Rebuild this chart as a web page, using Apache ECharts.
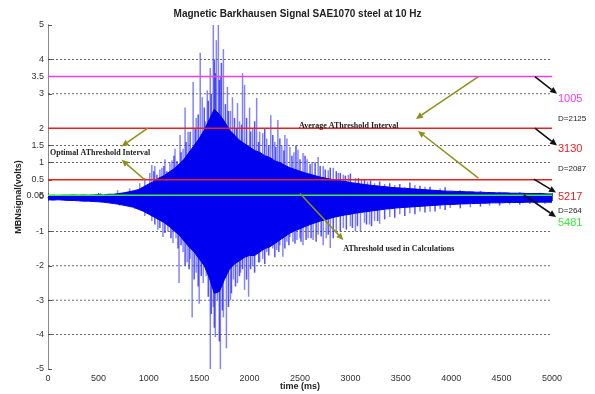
<!DOCTYPE html>
<html><head><meta charset="utf-8">
<script src="https://cdn.jsdelivr.net/npm/echarts@6/dist/echarts.min.js"></script>
<style>html,body{margin:0;padding:0;background:#fff}#c{width:595px;height:394px}</style>
</head><body><div id="c"></div>
<script>
// ---- data ----
const timeMs = [0,50,100,150,200,250,300,350,400,450,500,550,600,650,700,750,800,850,900,950,1000,1050,1100,1150,1200,1250,1300,1350,1400,1450,1500,1550,1600,1650,1700,1750,1800,1850,1900,1950,2000,2050,2100,2150,2200,2250,2300,2350,2400,2450,2500,2550,2600,2650,2700,2750,2800,2850,2900,2950,3000,3050,3100,3150,3200,3250,3300,3350,3400,3450,3500,3550,3600,3650,3700,3750,3800,3850,3900,3950,4000,4050,4100,4150,4200,4250,4300,4350,4400,4450,4500,4550,4600,4650,4700,4750,4800,4850,4900,4950,5000];
const coreHi = [0.04,0.05,0.04,0.05,0.05,0.06,0.05,0.06,0.05,0.06,0.07,0.06,0.08,0.08,0.1,0.12,0.15,0.18,0.22,0.3,0.38,0.45,0.55,0.62,0.72,0.82,0.95,1.1,1.3,1.5,1.7,1.95,2.25,2.55,2.4,2.2,1.95,1.8,1.65,1.55,1.45,1.35,1.3,1.2,1.15,1.05,1.0,0.92,0.85,0.8,0.75,0.7,0.66,0.62,0.58,0.55,0.52,0.5,0.47,0.45,0.42,0.4,0.38,0.36,0.34,0.33,0.31,0.3,0.28,0.27,0.26,0.25,0.24,0.23,0.22,0.21,0.2,0.19,0.18,0.17,0.17,0.16,0.16,0.15,0.15,0.14,0.14,0.13,0.13,0.12,0.12,0.12,0.11,0.11,0.11,0.1,0.1,0.1,0.1,0.09,0.09];
const coreLo = [-0.08,-0.09,-0.08,-0.09,-0.1,-0.1,-0.11,-0.12,-0.12,-0.13,-0.14,-0.15,-0.17,-0.19,-0.21,-0.24,-0.27,-0.3,-0.36,-0.42,-0.5,-0.58,-0.66,-0.74,-0.85,-0.98,-1.1,-1.28,-1.45,-1.6,-1.8,-2.0,-2.35,-2.8,-2.75,-2.4,-2.1,-1.95,-1.85,-1.75,-1.7,-1.7,-1.6,-1.5,-1.45,-1.35,-1.25,-1.15,-1.05,-0.98,-0.92,-0.86,-0.8,-0.75,-0.7,-0.66,-0.62,-0.58,-0.55,-0.52,-0.5,-0.47,-0.45,-0.43,-0.41,-0.39,-0.37,-0.35,-0.34,-0.32,-0.31,-0.3,-0.29,-0.28,-0.27,-0.26,-0.25,-0.24,-0.23,-0.22,-0.22,-0.21,-0.2,-0.2,-0.19,-0.19,-0.18,-0.18,-0.17,-0.17,-0.17,-0.16,-0.16,-0.16,-0.16,-0.15,-0.15,-0.15,-0.15,-0.15,-0.15];
const spikeUpT = [520,690,810,910,960,1010,1030,1060,1110,1130,1160,1210,1230,1260,1310,1340,1360,1390,1440,1470,1510,1530,1560,1580,1610,1640,1670,1690,1710,1740,1780,1810,1830,1880,1900,1930,1950,2000,2030,2070,2100,2130,2170,2210,2250,2280,2320,2350,2370,2400,2440,2480,2530,2570,2620,2680,2730,2780,2830,2880,2930,2980,3050,3110,3170,3240,3340,3440,3540,3640,3740,3890,4090,4290,4480,4680,4880];
const spikeUpV = [0.12,0.2,0.25,0.4,0.55,0.7,0.93,0.9,0.8,0.85,1.1,1.0,1.07,1.4,1.8,1.4,2.6,1.9,3.34,2.3,4.19,2.9,2.2,3.1,3.75,5.0,4.56,5.0,3.5,4.3,3.2,2.5,2.9,2.73,2.2,3.6,3.26,2.6,2.0,2.88,1.9,1.86,1.7,2.38,1.6,2.24,1.5,1.8,1.7,1.45,1.3,1.37,1.28,1.1,1.02,1.16,0.9,0.78,0.85,0.7,0.65,0.64,0.55,0.5,0.45,0.4,0.38,0.35,0.3,0.35,0.3,0.25,0.2,0.18,0.15,0.14,0.12];
const spikeDnT = [520,710,860,960,1030,1090,1140,1190,1240,1270,1300,1340,1380,1410,1430,1470,1500,1540,1570,1610,1640,1660,1680,1710,1740,1770,1810,1840,1880,1910,1950,1990,2030,2070,2100,2130,2170,2200,2230,2270,2300,2330,2370,2400,2430,2470,2500,2530,2580,2630,2680,2730,2760,2800,2860,2930,3000,3050,3100,3140,3190,3240,3290,3390,3490,3590,3690,3790,3890,3990,4190,4380,4580,4780,4930];
const spikeDnV = [-0.15,-0.25,-0.35,-0.55,-0.7,-0.95,-1.16,-1.0,-1.34,-1.2,-2.5,-1.6,-1.9,-1.8,-3.5,-2.2,-3.1,-2.5,-2.3,-5.0,-3.2,-4.07,-3.0,-5.0,-3.5,-4.4,-3.0,-2.4,-2.5,-2.2,-2.7,-2.9,-2.0,-1.6,-1.9,-1.8,-1.6,-1.35,-1.5,-1.54,-1.4,-1.74,-1.3,-1.16,-1.3,-1.25,-1.2,-1.4,-1.2,-1.25,-1.1,-1.4,-1.2,-1.48,-1.0,-0.9,-0.85,-1.0,-1.0,-0.75,-0.8,-0.7,-0.78,-0.58,-0.5,-0.47,-0.42,-0.43,-0.35,-0.32,-0.3,-0.25,-0.22,-0.2,-0.2];
const denseUpT = [1050,1080,1150,1180,1250,1280,1320,1370,1410,1460,1490,1550,1590,1620,1650,1660,1700,1720,1760,1790,1850,1870,1920,1970,2010,2050,2090,2150,2190,2230,2260,2300,2340,2420,2460,2500,2550,2600,2650,2700,2750,2800,2860,2900,2950,3000,3080,3140,3200,3290,3390,3490,3590,3690,3790,3940];
const denseUpV = [0.75,0.65,0.9,0.75,1.2,1.05,1.3,1.6,1.9,2.0,2.4,2.6,2.8,3.0,4.0,3.6,3.4,3.9,2.7,2.5,2.3,2.0,2.1,2.3,1.9,2.2,1.6,2.0,1.5,1.8,1.45,1.7,1.35,1.2,1.5,1.1,1.2,0.95,1.0,0.9,0.8,0.85,0.75,0.7,0.62,0.68,0.55,0.52,0.48,0.45,0.4,0.38,0.42,0.33,0.3,0.28];
const denseDnT = [1060,1110,1160,1220,1290,1320,1360,1400,1450,1490,1520,1590,1620,1650,1700,1730,1790,1820,1860,1900,1930,1970,2010,2050,2090,2150,2190,2250,2290,2350,2390,2450,2510,2560,2610,2660,2710,2780,2830,2900,2960,3020,3070,3160,3210,3270,3340,3440,3540,3640,3740,3840,3940,4090,4290,4480,4680,4850];
const denseDnV = [-0.8,-0.9,-1.05,-1.2,-1.5,-1.4,-2.0,-2.1,-2.4,-2.6,-2.3,-2.9,-3.4,-3.8,-4.2,-3.3,-3.2,-2.8,-2.6,-2.3,-2.1,-2.4,-2.1,-2.2,-1.9,-1.95,-1.7,-1.75,-1.6,-1.5,-1.4,-1.35,-1.3,-1.25,-1.2,-1.3,-1.15,-1.1,-1.2,-1.0,-0.95,-0.9,-0.85,-0.8,-0.85,-0.7,-0.65,-0.6,-0.55,-0.5,-0.45,-0.42,-0.38,-0.33,-0.28,-0.25,-0.22,-0.2];
const thresholds = [3.5, 2, 0.5, 0.05];
const thresholdColors = ['#ee3cee', '#e82020', '#e82020', '#3cea3c'];
const gridValues = [4, 3, 1.5, 1, -1, -2, -3, -4];
const yTickValues = [-5,-4,-3,-2,-1,0,0.05,0.5,1,1.5,2,3,3.5,4,5];
const countLabels = ['1005', 'D=2125', '3130', 'D=2087', '5217', 'D=264', '5481'];

// ---- chart ----
const chart = echarts.init(document.getElementById('c'), null, {renderer: 'canvas'});
const axisGray = '#8a8a8a';
const font = '"Liberation Sans", Arial, sans-serif';
const series = [];

gridValues.forEach(v => series.push({
  type: 'line', data: [[0, v], [5000, v]], showSymbol: false, silent: true, z: 1,
  lineStyle: {color: '#444', width: 0.8, type: [2, 2]}
}));
series.push({
  type: 'line', data: timeMs.map((t, i) => [t, coreHi[i]]), showSymbol: false, z: 3,
  lineStyle: {color: '#0000f0', width: 1}, areaStyle: {color: '#0000f0', opacity: 1, origin: 'auto'}
});
series.push({
  type: 'line', data: timeMs.map((t, i) => [t, coreLo[i]]), showSymbol: false, z: 3,
  lineStyle: {color: '#0000f0', width: 1}, areaStyle: {color: '#0000f0', opacity: 1, origin: 'auto'}
});
const spikeRenderer = (color, width) => (params, api) => {
  const p0 = api.coord([api.value(0), 0]);
  const p1 = api.coord([api.value(0), api.value(1)]);
  return {type: 'line', shape: {x1: p0[0], y1: p0[1], x2: p1[0], y2: p1[1]},
    style: {stroke: color, lineWidth: width}};
};
series.push({type: 'custom', renderItem: spikeRenderer('rgba(80,80,255,0.7)', 1.5), z: 2, clip: true,
  data: spikeUpT.map((t, i) => [t, spikeUpV[i]])});
series.push({type: 'custom', renderItem: spikeRenderer('rgba(80,80,255,0.7)', 1.5), z: 2, clip: true,
  data: spikeDnT.map((t, i) => [t, spikeDnV[i]])});
series.push({type: 'custom', renderItem: spikeRenderer('rgba(40,40,245,0.8)', 1.5), z: 2, clip: true,
  data: denseUpT.map((t, i) => [t, denseUpV[i]])});
series.push({type: 'custom', renderItem: spikeRenderer('rgba(40,40,245,0.8)', 1.5), z: 2, clip: true,
  data: denseDnT.map((t, i) => [t, denseDnV[i]])});
thresholds.forEach((v, i) => series.push({
  type: 'line', data: [[0, v], [5000, v]], showSymbol: false, silent: true, z: 5,
  lineStyle: {color: thresholdColors[i], width: 1.5}
}));

chart.setOption({
  animation: false,
  backgroundColor: '#fff',
  title: {text: 'Magnetic Barkhausen Signal SAE1070 steel at 10 Hz', left: 'center', top: 4,
    textStyle: {fontSize: 10, fontWeight: 'bold', color: '#222', fontFamily: font}},
  grid: {left: 48, right: 43, top: 25, bottom: 25},
  xAxis: [
    {type: 'value', min: 0, max: 5000, interval: 500, position: 'bottom',
      axisLine: {lineStyle: {color: axisGray}}, splitLine: {show: false},
      axisTick: {inside: true, length: 4, lineStyle: {color: '#555'}},
      axisLabel: {fontSize: 9, color: '#333', fontFamily: font, margin: 5, formatter: v => String(v)}},
    {type: 'value', min: 0, max: 5000, interval: 500, position: 'top',
      axisLine: {show: true, lineStyle: {color: axisGray}}, splitLine: {show: false},
      axisTick: {inside: true, length: 4, lineStyle: {color: '#555'}}, axisLabel: {show: false}}
  ],
  yAxis: [
    {type: 'value', min: -5, max: 5, position: 'left',
      axisLine: {show: true, lineStyle: {color: axisGray}}, splitLine: {show: false},
      axisTick: {show: true, inside: true, length: 4, customValues: yTickValues, lineStyle: {color: '#555'}},
      axisLabel: {fontSize: 9, color: '#333', fontFamily: font, margin: 4, customValues: yTickValues}},
    {type: 'value', min: -5, max: 5, position: 'right',
      axisLine: {show: true, lineStyle: {color: axisGray}}, splitLine: {show: false},
      axisTick: {show: false}, axisLabel: {show: false}}
  ],
  series: series
});

function arrow(a, b, color, w) {
  const ang = Math.atan2(b[1] - a[1], b[0] - a[0]);
  const L = 7, W = 3.2;
  const bx = b[0] - L * Math.cos(ang), by = b[1] - L * Math.sin(ang);
  const px = -Math.sin(ang) * W, py = Math.cos(ang) * W;
  return [
    {type: 'line', shape: {x1: a[0], y1: a[1], x2: bx, y2: by}, style: {stroke: color, lineWidth: w}, z: 50},
    {type: 'polygon', shape: {points: [[b[0], b[1]], [bx + px, by + py], [bx - px, by - py]]}, style: {fill: color}, z: 50}
  ];
}
const olive = '#8e8e1c';
const P = d => chart.convertToPixel({xAxisIndex: 0, yAxisIndex: 0}, d);
const serif = '"Liberation Serif", "Times New Roman", serif';
let els = [];
els = els.concat(arrow(P([990, 2.0]), P([730, 1.47]), olive, 1.5));
els = els.concat(arrow(P([960, 0.5]), P([730, 1.08]), olive, 1.5));
els = els.concat(arrow(P([4270, 3.5]), P([3650, 2.27]), olive, 1.5));
els = els.concat(arrow(P([4270, 0.55]), P([3670, 1.92]), olive, 1.5));
els = els.concat(arrow(P([2500, 0.1]), P([2930, -1.25]), olive, 1.5));
els = els.concat(arrow(P([4830, 3.5]), P([5050, 3.0]), '#111', 1.6));
els = els.concat(arrow(P([4830, 2.0]), P([5050, 1.5]), '#111', 1.6));
els = els.concat(arrow(P([4820, 0.52]), P([5040, 0.13]), '#111', 1.6));
els = els.concat(arrow(P([4720, 0.06]), P([5040, -0.58]), '#111', 1.6));
const txt = (s, p, f, color, align) => ({type: 'text', z: 60,
  style: {text: s, x: p[0], y: p[1], font: f, fill: color, textAlign: align || 'left', textVerticalAlign: 'middle'}});
const annFont = 'bold 8px ' + serif;
els.push(txt('Optimal AThreshold Interval', P([20, 1.28]), annFont, '#222'));
els.push(txt('Average AThreshold Interval', P([2490, 2.08]), annFont, '#222'));
els.push(txt('AThreshold used in Calculations', P([2930, -1.5]), annFont, '#222'));
const rx = 558;
const rLab = [[99, countLabels[0], '#ee3cee', '11px'], [119, countLabels[1], '#222', '8px'],
  [149, countLabels[2], '#e82020', '11px'], [169, countLabels[3], '#222', '8px'],
  [197, countLabels[4], '#e82020', '11px'], [211, countLabels[5], '#222', '8px'],
  [223, countLabels[6], '#3cea3c', '11px']];
rLab.forEach(r => els.push(txt(r[1], [rx, r[0]], r[3] + ' ' + font, r[2])));
els.push({type: 'text', z: 60, rotation: Math.PI / 2, x: 19, y: 197,
  style: {text: 'MBNsignal(volts)', x: 0, y: 0, font: 'bold 9px ' + font, fill: '#222', textAlign: 'center', textVerticalAlign: 'middle'}});
els.push(txt('time (ms)', [300, 387], 'bold 9px ' + font, '#222', 'center'));
chart.setOption({graphic: {elements: els}});
</script></body></html>
